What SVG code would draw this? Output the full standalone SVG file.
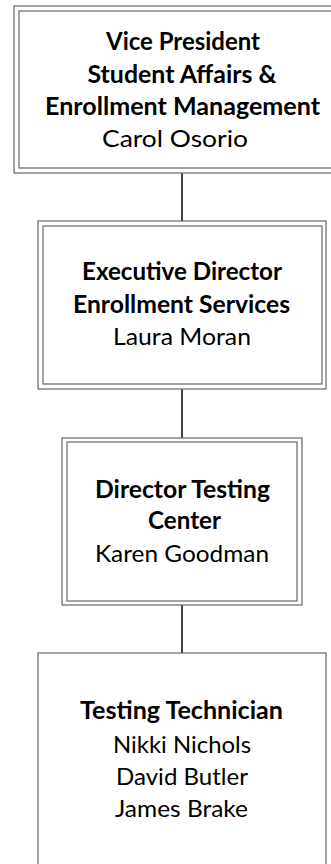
<svg xmlns="http://www.w3.org/2000/svg" width="331" height="864" viewBox="0 0 331 864">
<style>
.b{fill:#fff;stroke:#666;stroke-width:1.2}
.c{stroke:#444;stroke-width:2;fill:none}
text{font-family:Lato,"Open Sans",sans-serif;font-size:24px;fill:#000;text-anchor:middle}
.t{font-weight:bold}
</style>
<rect width="331" height="864" fill="#fff"/>
<g id="connectors">
<line class="c" x1="182" y1="173" x2="182" y2="221"/>
<line class="c" x1="182" y1="389" x2="182" y2="438"/>
<line class="c" x1="182" y1="605" x2="182" y2="653"/>
</g>
<g id="n1">
<rect class="b" x="14" y="6" width="330" height="167"/>
<rect class="b" x="19" y="11" width="320" height="157"/>
<text class="t" x="183" y="50" textLength="154" lengthAdjust="spacingAndGlyphs">Vice President</text>
<text class="t" x="182" y="83" textLength="189" lengthAdjust="spacingAndGlyphs">Student Affairs &amp;</text>
<text class="t" x="182.5" y="115" textLength="275" lengthAdjust="spacingAndGlyphs">Enrollment Management</text>
<text x="175" y="147" textLength="146" lengthAdjust="spacingAndGlyphs">Carol Osorio</text>
</g>
<g id="n2">
<rect class="b" x="38" y="221" width="288" height="168"/>
<rect class="b" x="43" y="226" width="279" height="158"/>
<text class="t" x="182" y="280" textLength="200" lengthAdjust="spacingAndGlyphs">Executive Director</text>
<text class="t" x="181.5" y="313" textLength="217" lengthAdjust="spacingAndGlyphs">Enrollment Services</text>
<text x="182" y="345" textLength="138" lengthAdjust="spacingAndGlyphs">Laura Moran</text>
</g>
<g id="n3">
<rect class="b" x="62" y="438" width="240" height="167"/>
<rect class="b" x="67" y="442" width="230" height="159"/>
<text class="t" x="182.5" y="498" textLength="175" lengthAdjust="spacingAndGlyphs">Director Testing</text>
<text class="t" x="184.5" y="529" textLength="73" lengthAdjust="spacingAndGlyphs">Center</text>
<text x="182" y="562" textLength="174" lengthAdjust="spacingAndGlyphs">Karen Goodman</text>
</g>
<g id="n4">
<rect class="b" x="38" y="653" width="288" height="230"/>
<text class="t" x="181.5" y="719" textLength="203" lengthAdjust="spacingAndGlyphs">Testing Technician</text>
<text x="182" y="753" textLength="138" lengthAdjust="spacingAndGlyphs">Nikki Nichols</text>
<text x="182" y="785" textLength="132" lengthAdjust="spacingAndGlyphs">David Butler</text>
<text x="181.5" y="817" textLength="133" lengthAdjust="spacingAndGlyphs">James Brake</text>
</g>
</svg>
